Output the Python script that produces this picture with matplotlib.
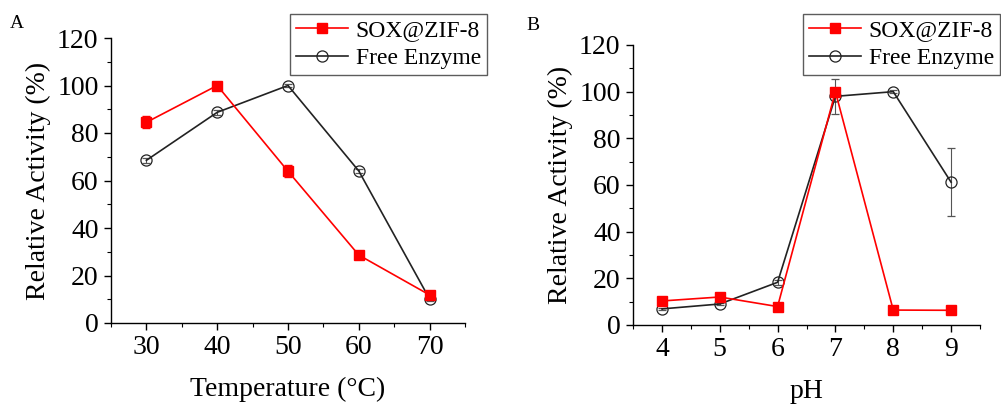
import matplotlib.pyplot as plt
from matplotlib.ticker import MultipleLocator

plt.rcParams['font.family'] = ['Liberation Serif', 'DejaVu Serif']

# Panel A: temperature
temp = [30, 40, 50, 60, 70]
sox_temp = [84.5, 100, 63.9, 28.6, 11.8]
sox_temp_err = [2.5, 1.0, 2.5, 1.0, 1.0]
free_temp = [68.5, 88.7, 100, 64.0, 10.1]
free_temp_err = [1.0, 1.0, 0.5, 1.0, 1.0]

# Panel B: pH
ph = [4, 5, 6, 7, 8, 9]
sox_ph = [10.3, 12.0, 7.9, 100, 6.4, 6.3]
sox_ph_err = [0.5, 0.5, 0.5, 1.0, 0.5, 0.5]
free_ph = [6.9, 9.0, 18.3, 98.0, 100, 61.2]
free_ph_err = [0.5, 0.5, 1.0, 7.6, 0.5, 14.5]

fig = plt.figure(figsize=(10.01, 4.05), dpi=100)
W, H = 1001, 405
axA = fig.add_axes([111 / W, 1 - 323 / H, (465 - 111) / W, (323 - 38) / H])
axB = fig.add_axes([633 / W, 1 - 325 / H, (980 - 633) / W, (325 - 45) / H])


def draw(ax, x, s, se, f, fe):
    l1 = ax.errorbar(x, s, yerr=se, color='#ff0000', marker='s', ms=7.5, lw=1.2,
                     capsize=3, elinewidth=0.8, zorder=3)
    l2 = ax.errorbar(x, f, yerr=fe, color='#222222', marker='o', ms=8, mfc='none',
                     mew=0.9, lw=1.2, capsize=3, elinewidth=0.8, ecolor='#555555',
                     zorder=2)
    ax.set_ylim(0, 120)
    ax.yaxis.set_major_locator(MultipleLocator(20))
    ax.yaxis.set_minor_locator(MultipleLocator(10))
    ax.spines['top'].set_visible(False)
    ax.spines['right'].set_visible(False)
    for sp in ('left', 'bottom'):
        ax.spines[sp].set_linewidth(1.0)
    ax.tick_params(which='major', direction='out', length=5, width=1.0,
                   labelsize=20, pad=4)
    ax.tick_params(which='minor', direction='out', length=3, width=0.8)
    ax.set_ylabel('Relative Activity (%)', fontsize=20, labelpad=4)
    return l1[0], l2[0]


hA = draw(axA, temp, sox_temp, sox_temp_err, free_temp, free_temp_err)
axA.set_xlim(25, 75)
axA.xaxis.set_major_locator(MultipleLocator(10))
axA.xaxis.set_minor_locator(MultipleLocator(5))
axA.set_xlabel('Temperature (°C)', fontsize=20, labelpad=12)

hB = draw(axB, ph, sox_ph, sox_ph_err, free_ph, free_ph_err)
axB.set_xlim(3.5, 9.5)
axB.xaxis.set_major_locator(MultipleLocator(1))
axB.xaxis.set_minor_locator(MultipleLocator(0.5))
axB.set_xlabel('pH', fontsize=20, labelpad=12)

for h, box in ((hA, (293, 14, 487, 76)), (hB, (812, 14, 1000, 75))):
    x0, y0, x1, y1 = box
    leg = fig.legend(h, ['SOX@ZIF-8', 'Free Enzyme'], loc='upper right',
                     bbox_to_anchor=(x1 / W, 1 - y0 / H), fontsize=17,
                     frameon=True, fancybox=False, edgecolor='#333333',
                     borderpad=0.25, handlelength=2.2, handletextpad=0.35,
                     labelspacing=0.25, borderaxespad=0)
    leg.get_frame().set_linewidth(1.0)

fig.text(10 / W, 1 - 28 / H, 'A', fontsize=14)
fig.text(526 / W, 1 - 30 / H, 'B', fontsize=14)

fig.savefig('out.png', dpi=100, facecolor='white')
